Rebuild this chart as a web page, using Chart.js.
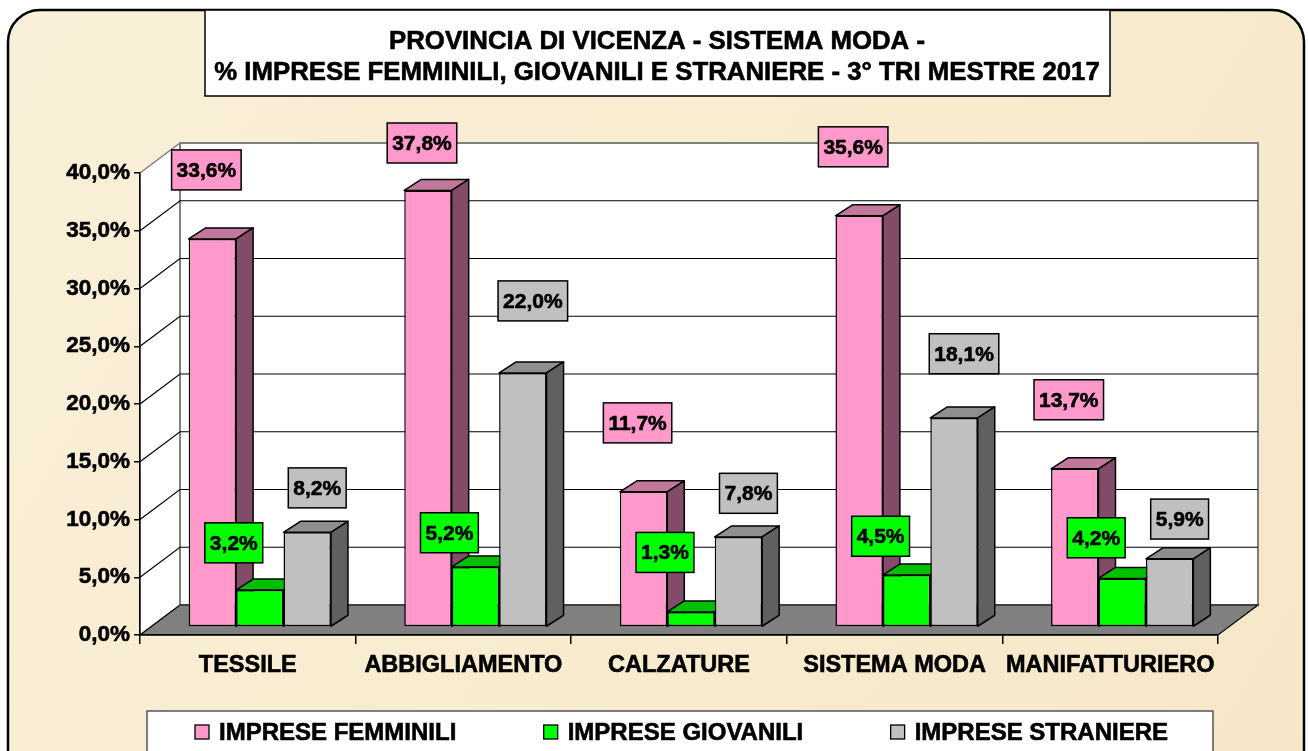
<!DOCTYPE html>
<html>
<head>
<meta charset="utf-8">
<script src="https://cdn.jsdelivr.net/npm/chart.js@4/dist/chart.umd.min.js"></script>
<style>
  html, body { margin:0; padding:0; background:#fff; }
  canvas { display:block; }
</style>
</head>
<body>
<canvas id="grafico" width="1308" height="751"></canvas>
<script>
// Dati (3° trimestre 2017)
const titolo    = ['PROVINCIA DI VICENZA - SISTEMA MODA -',
                   '% IMPRESE FEMMINILI, GIOVANILI E STRANIERE - 3° TRI MESTRE 2017'];
const settori   = ['TESSILE', 'ABBIGLIAMENTO', 'CALZATURE', 'SISTEMA MODA', 'MANIFATTURIERO'];
const serie     = ['IMPRESE FEMMINILI', 'IMPRESE GIOVANILI', 'IMPRESE STRANIERE'];
const femminili = [33.6, 37.8, 11.7, 35.6, 13.7];
const giovanili = [3.2, 5.2, 1.3, 4.5, 4.2];
const straniere = [8.2, 22.0, 7.8, 18.1, 5.9];
const Y_MAX = 40, Y_STEP = 5;

// colori: fronte, cima, lato
const colori = [
  ['#FF99CC', '#C2779D', '#824C68'],
  ['#00FF00', '#00BF00', '#008000'],
  ['#C0C0C0', '#8F8F8F', '#606060'],
];

const FONT = '"Liberation Sans", Arial, sans-serif';
const pct = v => v.toFixed(1).replace('.', ',') + '%';

// geometria pseudo 3D
const WALL_DX = 40, WALL_DY = -30;  // pareti
const BAR_DX  = 12, BAR_DY  = -8;   // barre spostate dentro il pavimento
const DEP_X   = 17, DEP_Y   = -11;  // profondità barre
const LABEL_DX = [-6, -26, 10];
const labelOff = [v => 69, v => 68 - 6.5 * v, v => 28 + 2 * v];

function poly(ctx, pts, fill, stroke, lw) {
  ctx.beginPath();
  pts.forEach(([x, y], i) => i ? ctx.lineTo(x, y) : ctx.moveTo(x, y));
  ctx.closePath();
  if (fill)   { ctx.fillStyle = fill; ctx.fill(); }
  if (stroke) { ctx.strokeStyle = stroke; ctx.lineWidth = lw || 1; ctx.stroke(); }
}

// testo un po' più marcato, come nel grafico Excel
function testo(ctx, t, x, y) {
  ctx.fillText(t, x, y);
  ctx.lineWidth = 0.6;
  ctx.strokeStyle = ctx.fillStyle;
  ctx.strokeText(t, x, y);
}

const scena = {
  id: 'scena',
  beforeDraw(chart) {
    const { ctx, chartArea: a, scales: { y } } = chart;
    ctx.save();
    ctx.fillStyle = '#fff';
    ctx.fillRect(0, 0, chart.width, chart.height);

    // cornice arrotondata
    const g = ctx.createLinearGradient(0, 0, chart.width, chart.height);
    g.addColorStop(0, '#FAF0D9');
    g.addColorStop(0.5, '#F8ECD0');
    g.addColorStop(1, '#F6E7C8');
    ctx.beginPath();
    ctx.roundRect(8, 10, 1296, 790, 32);
    ctx.fillStyle = g; ctx.fill();
    ctx.strokeStyle = '#000'; ctx.lineWidth = 2.5; ctx.stroke();

    const yT = y.getPixelForValue(Y_MAX), yB = y.getPixelForValue(0);
    // parete sinistra
    poly(ctx, [[a.left, yT], [a.left + WALL_DX, yT + WALL_DY],
               [a.left + WALL_DX, yB + WALL_DY], [a.left, yB]], '#fff', '#808080', 1.5);
    // parete di fondo
    ctx.fillStyle = '#fff';
    ctx.fillRect(a.left + WALL_DX, yT + WALL_DY, a.right - a.left, yB - yT);
    ctx.strokeStyle = '#808080'; ctx.lineWidth = 2;
    ctx.strokeRect(a.left + WALL_DX, yT + WALL_DY, a.right - a.left, yB - yT);

    // griglia
    ctx.strokeStyle = '#000'; ctx.lineWidth = 1.2;
    for (let v = Y_STEP; v < Y_MAX; v += Y_STEP) {
      const py = y.getPixelForValue(v);
      ctx.beginPath();
      ctx.moveTo(a.left, py);
      ctx.lineTo(a.left + WALL_DX, py + WALL_DY);
      ctx.lineTo(a.right + WALL_DX, py + WALL_DY);
      ctx.stroke();
    }
    // pavimento
    poly(ctx, [[a.left, yB], [a.left + WALL_DX, yB + WALL_DY],
               [a.right + WALL_DX, yB + WALL_DY], [a.right, yB]], '#808080', '#000', 1.2);
    ctx.restore();
  },

  beforeDatasetsDraw(chart) {
    const ctx = chart.ctx;
    ctx.save();
    ctx.translate(BAR_DX, BAR_DY);
    ctx.lineJoin = 'round';
    chart.data.datasets.forEach((ds, i) => {
      chart.getDatasetMeta(i).data.forEach(el => {
        const { x, y, base, width } = el.getProps(['x', 'y', 'base', 'width'], true);
        const l = x - width / 2, r = x + width / 2;
        poly(ctx, [[l, y], [l + DEP_X, y + DEP_Y], [r + DEP_X, y + DEP_Y], [r, y]], colori[i][1], '#000', 1.5);
        poly(ctx, [[r, y], [r + DEP_X, y + DEP_Y], [r + DEP_X, base + DEP_Y], [r, base]], colori[i][2], '#000', 1.5);
      });
    });
  },

  afterDatasetsDraw(chart) {
    const { ctx, chartArea: a } = chart;
    ctx.restore();
    ctx.save();
    ctx.font = `bold 21px ${FONT}`;
    ctx.textAlign = 'center';
    ctx.textBaseline = 'middle';
    chart.data.datasets.forEach((ds, i) => {
      chart.getDatasetMeta(i).data.forEach((el, j) => {
        const v = ds.data[j];
        const txt = pct(v);
        const cx = el.x + BAR_DX + LABEL_DX[i];
        const cy = Math.max(el.y + BAR_DY - labelOff[i](v), a.top - 30);
        const w = ctx.measureText(txt).width + 10, h = 40;
        ctx.fillStyle = colori[i][0];
        ctx.fillRect(cx - w / 2, cy - h / 2, w, h);
        ctx.strokeStyle = '#000'; ctx.lineWidth = 1.5;
        ctx.strokeRect(cx - w / 2, cy - h / 2, w, h);
        ctx.fillStyle = '#000';
        testo(ctx, txt, cx, cy + 1);
      });
    });
    ctx.restore();
  },

  afterDraw(chart) {
    const ctx = chart.ctx;
    ctx.save();
    // titolo
    ctx.fillStyle = '#fff';
    ctx.fillRect(205, 10, 905, 86);
    ctx.strokeStyle = '#000'; ctx.lineWidth = 1.5;
    ctx.strokeRect(205, 10, 905, 86);
    ctx.fillStyle = '#000';
    ctx.font = `bold 25.8px ${FONT}`;
    ctx.textAlign = 'center'; ctx.textBaseline = 'middle';
    testo(ctx, titolo[0], 657, 42);
    testo(ctx, titolo[1], 657, 73);

    // legenda
    const lx = 147, ly = 711, lw = 1066, lh = 60;
    ctx.fillStyle = '#fff';
    ctx.fillRect(lx, ly, lw, lh);
    ctx.strokeStyle = '#555'; ctx.lineWidth = 1.5;
    ctx.strokeRect(lx, ly, lw, lh);
    ctx.font = `bold 24px ${FONT}`;
    ctx.textAlign = 'left';
    const widths = serie.map(s => ctx.measureText(s).width);
    const tot = widths.reduce((s, w) => s + w + 24, 0);
    const gap = (lw - 48 - 45 - tot) / (serie.length - 1);
    let px = lx + 48;
    serie.forEach((s, i) => {
      ctx.fillStyle = colori[i][0];
      ctx.fillRect(px, 725, 14, 14);
      ctx.strokeStyle = '#000'; ctx.lineWidth = 1.3;
      ctx.strokeRect(px, 725, 14, 14);
      ctx.fillStyle = '#000';
      testo(ctx, s, px + 24, 733);
      px += 24 + widths[i] + gap;
    });
    ctx.restore();
  }
};

new Chart(document.getElementById('grafico'), {
  type: 'bar',
  data: {
    labels: settori,
    datasets: [femminili, giovanili, straniere].map((d, i) => ({
      label: serie[i],
      data: d,
      backgroundColor: colori[i][0],
      borderColor: '#000',
      borderWidth: 1.5,
      borderSkipped: false,
      barPercentage: 1,
      categoryPercentage: 0.66,
    }))
  },
  options: {
    responsive: false,
    animation: false,
    devicePixelRatio: 1,
    layout: { padding: { left: 0, top: 173, right: 90, bottom: 36 } },
    plugins: { legend: { display: false }, title: { display: false }, tooltip: { enabled: false } },
    scales: {
      x: {
        grid: { display: true, drawOnChartArea: false, offset: true, tickLength: 9, color: '#000', lineWidth: 1.5 },
        border: { display: true, color: '#000', width: 1.5 },
        ticks: { font: { family: FONT, size: 23.5, weight: 'bold' }, color: '#000', padding: 7,
                 autoSkip: false, maxRotation: 0, minRotation: 0,
                 textStrokeColor: '#000', textStrokeWidth: 0.6 },
        afterFit: s => { s.height = 80; }
      },
      y: {
        min: 0, max: Y_MAX,
        grid: { display: true, drawOnChartArea: false, tickLength: 6, color: '#000', lineWidth: 1.5 },
        border: { display: true, color: '#000', width: 1.5 },
        ticks: { stepSize: Y_STEP, callback: v => pct(v), font: { family: FONT, size: 22.5, weight: 'bold' },
                 color: '#000', padding: 4, textStrokeColor: '#000', textStrokeWidth: 0.6 },
        afterFit: s => { s.width = 140; }
      }
    }
  },
  plugins: [scena]
});
</script>
</body>
</html>
